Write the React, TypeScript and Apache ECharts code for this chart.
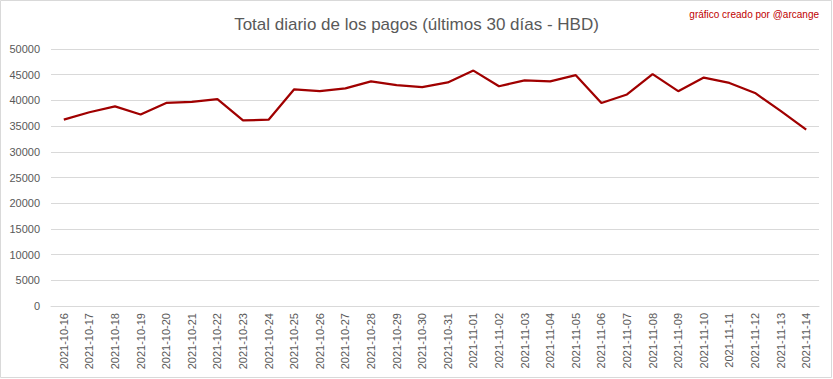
import React, { useEffect, useRef } from "react";
import * as echarts from "echarts";

const titleText = "Total diario de los pagos (últimos 30 días - HBD)";
const creditText = "gráfico creado por @arcange";

const dates = [
  "2021-10-16", "2021-10-17", "2021-10-18", "2021-10-19", "2021-10-20",
  "2021-10-21", "2021-10-22", "2021-10-23", "2021-10-24", "2021-10-25",
  "2021-10-26", "2021-10-27", "2021-10-28", "2021-10-29", "2021-10-30",
  "2021-10-31", "2021-11-01", "2021-11-02", "2021-11-03", "2021-11-04",
  "2021-11-05", "2021-11-06", "2021-11-07", "2021-11-08", "2021-11-09",
  "2021-11-10", "2021-11-11", "2021-11-12", "2021-11-13", "2021-11-14",
];

const payments = [
  36250, 37700, 38850, 37250, 39500,
  39700, 40250, 36100, 36250, 42150,
  41800, 42350, 43700, 42950, 42600,
  43500, 45800, 42750, 43900, 43700,
  44900, 39500, 41150, 45100, 41800,
  44450, 43400, 41450, 37950, 34300,
];

const yMin = 0;
const yMax = 50000;
const yStep = 5000;

export default function App() {
  const ref = useRef<HTMLDivElement>(null);
  useEffect(() => {
    if (!ref.current) return;
    const chart = echarts.init(ref.current, null, { renderer: "svg" });
    chart.setOption({
      animation: false,
      backgroundColor: "#ffffff",
      graphic: [
        {
          type: "rect",
          shape: { x: 0.5, y: 0.5, width: 831, height: 377 },
          style: { fill: "none", stroke: "#d9d9d9", lineWidth: 1 },
          silent: true,
        },
        {
          type: "text",
          right: 14,
          top: 9,
          style: {
            text: creditText,
            fill: "#c00000",
            font: "10px 'Liberation Sans', sans-serif",
          },
        },
      ],
      title: {
        text: titleText,
        left: "center",
        top: 11,
        textStyle: {
          color: "#595959",
          fontSize: 17,
          fontWeight: "normal",
          fontFamily: "'Liberation Sans', sans-serif",
        },
      },
      grid: { left: 51, right: 14, top: 49, bottom: 73, containLabel: false },
      xAxis: {
        type: "category",
        data: dates,
        boundaryGap: true,
        axisLine: { show: true, lineStyle: { color: "#d9d9d9", width: 1 } },
        axisTick: { show: false },
        axisLabel: {
          rotate: 90,
          interval: 0,
          margin: 7,
          color: "#595959",
          fontSize: 11,
          fontFamily: "'Liberation Sans', sans-serif",
        },
      },
      yAxis: {
        type: "value",
        min: yMin,
        max: yMax,
        interval: yStep,
        axisLine: { show: false },
        axisTick: { show: false },
        splitLine: { lineStyle: { color: "#d9d9d9", width: 1 } },
        axisLabel: {
          margin: 11,
          color: "#595959",
          fontSize: 11,
          fontFamily: "'Liberation Sans', sans-serif",
          formatter: (v: number) => String(v),
        },
      },
      series: [
        {
          type: "line",
          data: payments,
          symbol: "none",
          lineStyle: { color: "#a00000", width: 2.25 },
          itemStyle: { color: "#a00000" },
        },
      ],
    });
    return () => chart.dispose();
  }, []);
  return (
    <div
      ref={ref}
      style={{ position: "absolute", left: 0, top: 0, width: 833, height: 379 }}
    />
  );
}
